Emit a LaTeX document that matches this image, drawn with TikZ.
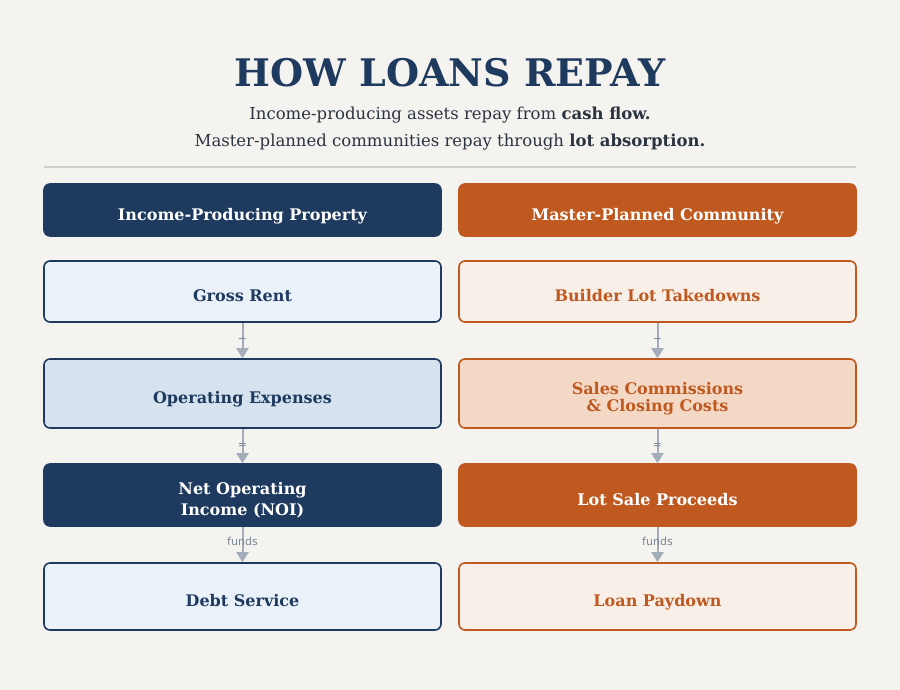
\documentclass[tikz,border=0pt]{standalone}
\usepackage{fontspec}
\setmainfont{DejaVu Serif}
\newfontfamily\labelfont{DejaVu Sans}
\usetikzlibrary{arrows.meta}
\definecolor{bgc}{HTML}{F5F3EF}
\definecolor{navy}{HTML}{1E3A5F}
\definecolor{rust}{HTML}{C0591F}
\definecolor{lblue}{HTML}{EAF1F8}
\definecolor{mblue}{HTML}{D6E3EF}
\definecolor{lrust}{HTML}{F8EFE8}
\definecolor{mrust}{HTML}{F3D8C6}
\definecolor{arrowc}{HTML}{A3ADBA}
\definecolor{sepc}{HTML}{CFCDC9}
\definecolor{subc}{HTML}{2A3340}
\definecolor{lblc}{HTML}{7A8594}
\tikzset{
  box/.style={rounded corners=6pt, line width=1.6pt, minimum width=397pt, inner sep=0pt},
  navyhead/.style={box, fill=navy, draw=navy},
  rusthead/.style={box, fill=rust, draw=rust},
  bluebox/.style={box, fill=lblue, draw=navy},
  bluemid/.style={box, fill=mblue, draw=navy},
  rustbox/.style={box, fill=lrust, draw=rust},
  rustmid/.style={box, fill=mrust, draw=rust},
  txt/.style={text=#1, align=center, inner sep=0pt, font=\fontsize{16}{18}\selectfont\bfseries},
  one/.style={txt=#1, text height=12pt, text depth=4pt, yshift=-6pt},
  two/.style={txt=#1, yshift=-5pt},
  flow/.style={draw=arrowc, line width=2pt, -{Triangle[width=12pt,length=10pt]}},
  marklbl/.style={text=lblc, font=\fontsize{11}{12}\selectfont\labelfont, inner sep=1pt}
}
\begin{document}
\begin{tikzpicture}[x=1pt,y=-1pt]
\fill[bgc] (0,0) rectangle (900,690);
\useasboundingbox (0,0) rectangle (900,690);
\node[text=navy, font=\fontsize{38}{40}\selectfont\bfseries] (title) at (450,73) {HOW LOANS REPAY};
\node[text=subc, font=\fontsize{16.5}{18}\selectfont] (sub1) at (450,115) {Income-producing assets repay from \textbf{cash flow.}};
\node[text=subc, font=\fontsize{16.5}{18}\selectfont] (sub2) at (450,142) {Master-planned communities repay through \textbf{lot absorption.}};
\coordinate (sepL) at (44,167);
\coordinate (sepR) at (856,167);
\draw[sepc, line width=2pt] (sepL) -- (sepR);

% left column
\node[navyhead, minimum height=52pt, label={[one=white]center:Income-Producing Property}] (hL) at (242.5,210) {};
\node[bluebox, minimum height=61pt, label={[one=navy]center:Gross Rent}] (l1) at (242.5,291.5) {};
\node[bluemid, minimum height=69pt, label={[one=navy]center:Operating Expenses}] (l2) at (242.5,393.5) {};
\node[navyhead, minimum height=62pt, label={[two=white, font=\fontsize{16}{21.5}\selectfont\bfseries]center:{Net Operating\\Income (NOI)}}] (l3) at (242.5,495) {};
\node[bluebox, minimum height=67pt, label={[one=navy]center:Debt Service}] (l4) at (242.5,596.5) {};

% right column
\node[rusthead, minimum height=52pt, label={[one=white]center:Master-Planned Community}] (hR) at (657.5,210) {};
\node[rustbox, minimum height=61pt, label={[one=rust]center:Builder Lot Takedowns}] (r1) at (657.5,291.5) {};
\node[rustmid, minimum height=69pt, label={[two=rust, font=\fontsize{16}{17.5}\selectfont\bfseries]center:{Sales Commissions\\\& Closing Costs}}] (r2) at (657.5,393.5) {};
\node[rusthead, minimum height=62pt, label={[one=white]center:Lot Sale Proceeds}] (r3) at (657.5,495) {};
\node[rustbox, minimum height=67pt, label={[one=rust]center:Loan Paydown}] (r4) at (657.5,596.5) {};

% connectors
\draw[flow] (l1.south) -- (l2.north) node[marklbl, pos=0.5] {−};
\draw[flow] (l2.south) -- (l3.north) node[marklbl, pos=0.5] {=};
\draw[flow] (l3.south) -- (l4.north) node[marklbl, pos=0.4] {funds};
\draw[flow] (r1.south) -- (r2.north) node[marklbl, pos=0.5] {−};
\draw[flow] (r2.south) -- (r3.north) node[marklbl, pos=0.5] {=};
\draw[flow] (r3.south) -- (r4.north) node[marklbl, pos=0.4] {funds};
\end{tikzpicture}
\end{document}
